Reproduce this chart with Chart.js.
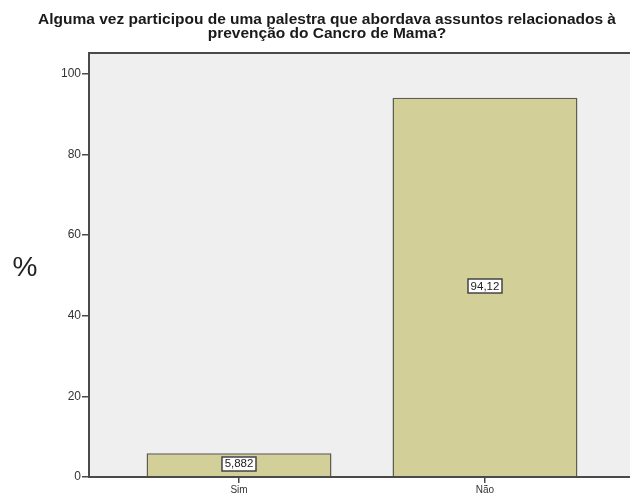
<!DOCTYPE html>
<html>
<head>
<meta charset="utf-8">
<script src="https://cdn.jsdelivr.net/npm/chart.js@4/dist/chart.umd.min.js"></script>
<style>
  html, body { margin: 0; padding: 0; background: #fff; overflow: hidden; }
  #wrap { position: relative; width: 700px; height: 496px; }
</style>
</head>
<body>
<div id="wrap"><canvas id="chart" width="700" height="496"></canvas></div>
<script>
/* ---- Data ---- */
const categories = ["Sim", "Não"];
const percentValues = [5.882, 94.12];
const valueLabels = ["5,882", "94,12"];
const yTicks = [0, 20, 40, 60, 80, 100];
const titleLines = [
  "Alguma vez participou de uma palestra que abordava assuntos relacionados à",
  "prevenção do Cancro de Mama?",
];

const AXIS_COLOR = "#4A4A4A";
const FONT = 'Arial, "Liberation Sans", sans-serif';

/* plot background, frame, title, "%" and boxed value labels */
const decorPlugin = {
  id: "decor",
  beforeDraw(chart) {
    const { ctx, chartArea: a } = chart;
    ctx.save();
    ctx.fillStyle = "#EFEFEF";
    ctx.fillRect(a.left, a.top, a.right - a.left, a.bottom - a.top);
    ctx.restore();
  },
  afterDraw(chart) {
    const { ctx, chartArea: a } = chart;
    ctx.save();
    ctx.strokeStyle = AXIS_COLOR;
    ctx.lineWidth = 2;
    ctx.strokeRect(a.left, a.top, a.right - a.left, a.bottom - a.top);

    // title
    ctx.fillStyle = "#1a1a1a";
    ctx.font = "bold 15.5px " + FONT;
    ctx.textAlign = "center";
    ctx.textBaseline = "middle";
    ctx.fillText(titleLines[0], 327, 20);
    ctx.fillText(titleLines[1], 327, 34);

    // percent sign
    ctx.font = "28px " + FONT;
    ctx.fillStyle = "#222";
    ctx.fillText("%", 25, 268);

    // value labels in boxes at bar mid-height
    const meta = chart.getDatasetMeta(0);
    ctx.font = "11.5px " + FONT;
    meta.data.forEach((bar, i) => {
      const cx = bar.x;
      const cy = (bar.y + bar.base) / 2 - 1;
      const w = Math.round(ctx.measureText(valueLabels[i]).width + 5);
      const h = 14;
      const x0 = Math.round(cx - w / 2);
      const y0 = Math.round(cy - h / 2);
      ctx.fillStyle = "#fff";
      ctx.fillRect(x0, y0, w, h);
      ctx.strokeStyle = "#444";
      ctx.lineWidth = 1.5;
      ctx.strokeRect(x0, y0, w, h);
      ctx.fillStyle = "#222";
      ctx.fillText(valueLabels[i], cx, cy + 0.5);
    });
    ctx.restore();
  },
};

new Chart(document.getElementById("chart"), {
  type: "bar",
  data: {
    datasets: [
      {
        data: percentValues.map((v, i) => ({ x: i, y: v })),
        backgroundColor: "#D3CF98",
        borderColor: "#5E5E50",
        borderWidth: 1.5,
        barPercentage: 0.752,
        categoryPercentage: 1,
      },
    ],
  },
  options: {
    responsive: false,
    animation: false,
    layout: { padding: { top: 53, right: 65, left: 0, bottom: 0 } },
    plugins: { legend: { display: false }, tooltip: { enabled: false }, title: { display: false } },
    scales: {
      x: {
        type: "linear",
        offset: false,
        min: -0.61,
        max: 1.61,
        afterBuildTicks: (s) => { s.ticks = categories.map((_, i) => ({ value: i })); },
        afterFit: (s) => { s.height = 19; },
        grid: { offset: false, drawOnChartArea: false, color: AXIS_COLOR, tickLength: 6, lineWidth: 1.5 },
        border: { color: AXIS_COLOR, width: 2 },
        ticks: {
          callback: (v) => categories[v] ?? "",
          color: "#333",
          padding: 1,
          font: { size: 10, family: FONT },
          maxRotation: 0,
        },
      },
      y: {
        min: 0,
        max: 105.2,
        afterBuildTicks: (s) => { s.ticks = yTicks.map((v) => ({ value: v })); },
        afterFit: (s) => { s.width = 89; },
        grid: { drawOnChartArea: false, color: AXIS_COLOR, tickLength: 7, lineWidth: 1.5 },
        border: { color: AXIS_COLOR, width: 2 },
        ticks: {
          color: "#333",
          padding: 1,
          font: { size: 12, family: FONT },
        },
      },
    },
  },
  plugins: [decorPlugin],
});
</script>
</body>
</html>
